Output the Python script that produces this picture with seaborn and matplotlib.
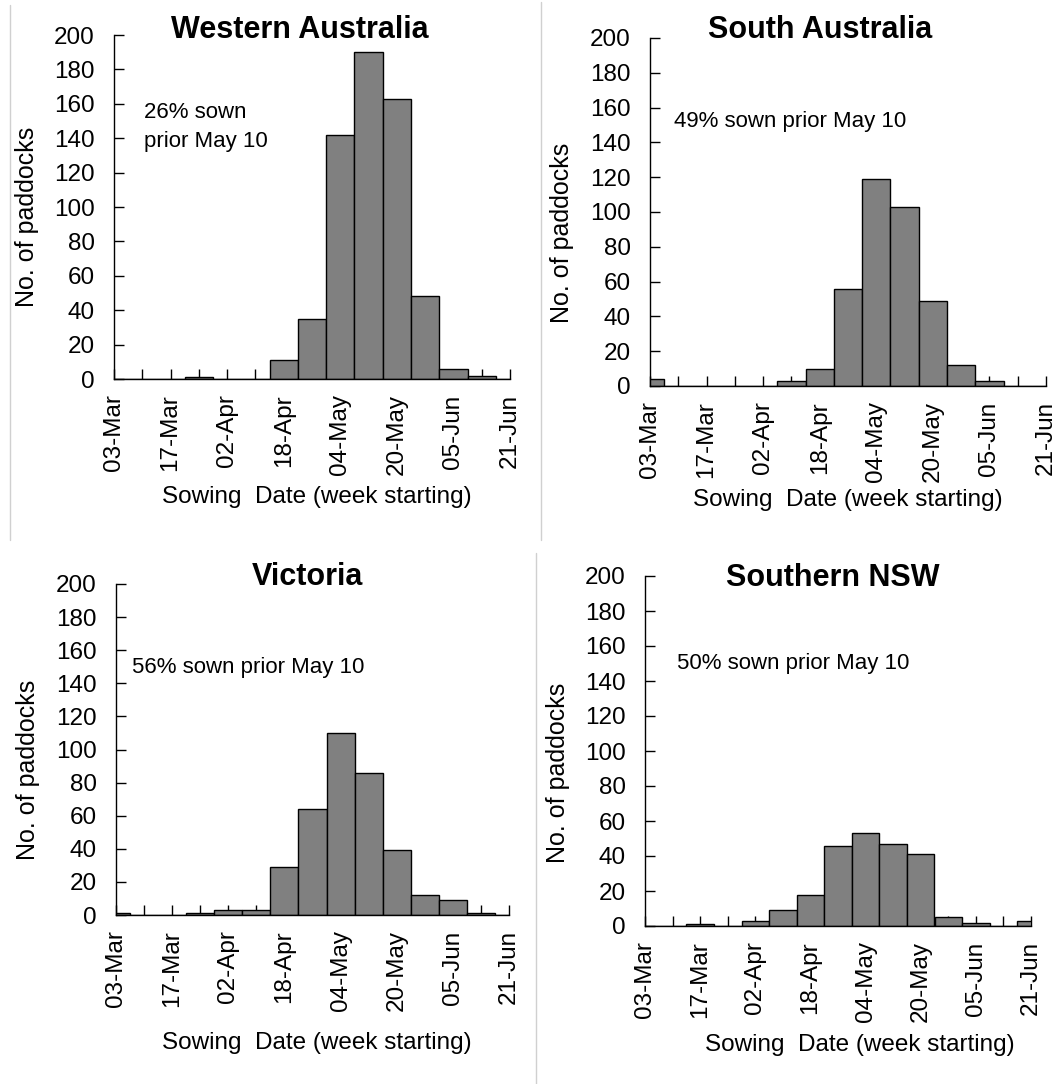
import numpy as np
import pandas as pd
import matplotlib
matplotlib.use("Agg")
import matplotlib.pyplot as plt
from matplotlib.lines import Line2D
import seaborn as sns

sns.set_style("white")
plt.rcParams['font.family'] = ['Liberation Sans', 'DejaVu Sans']
plt.rcParams['text.color'] = 'black'
plt.rcParams['xtick.color'] = 'black'
plt.rcParams['ytick.color'] = 'black'

# ------------------------------
# data: weekly counts of paddocks, one value per week slot (0..14)
# ------------------------------
week_pos = list(range(15))
tick_labels = ["03-Mar", "17-Mar", "02-Apr", "18-Apr", "04-May", "20-May", "05-Jun", "21-Jun"]

wa_counts = [0, 0, 0, 1, 0, 0, 11, 35, 142, 190, 163, 48, 6, 2, 0]
sa_counts = [4, 0, 0, 0, 0, 3, 10, 56, 119, 103, 49, 12, 3, 0, 0]
vic_counts = [1, 0, 0, 1, 3, 3, 29, 64, 110, 86, 39, 12, 9, 1, 0]
nsw_counts = [0, 0, 1, 0, 3, 9, 18, 46, 53, 47, 41, 5, 2, 0, 3]

regions = ["Western Australia", "South Australia", "Victoria", "Southern NSW"]
notes = ["26% sown\nprior May 10", "49% sown prior May 10",
         "56% sown prior May 10", "50% sown prior May 10"]
counts = [wa_counts, sa_counts, vic_counts, nsw_counts]

W, H = 1064, 1084
fig = plt.figure(figsize=(W / 100, H / 100), dpi=100)

# panel boxes in pixels: left, top, right, bottom
boxes = [(114, 35, 510, 379), (650, 38, 1046, 386),
         (116, 584, 509, 915), (645, 576, 1031, 926)]
title_pos = [(300, 30), (820, 30), (307, 577), (833, 578)]
note_pos = [(144, 127), (674, 122), (132, 668), (677, 663)]
ylab_pos = [(27, 217), (562, 233), (28, 770), (558, 773)]
xlab_pos = [(317, 497), (848, 500), (317, 1043), (860, 1045)]


def fx(px):
    return px / W


def fy(py):
    return 1 - py / H


for i in range(4):
    l, t, r, b = boxes[i]
    ax = fig.add_axes([fx(l), fy(b), fx(r) - fx(l), (b - t) / H])
    df = pd.DataFrame({"week": week_pos, "n": counts[i]})
    sns.histplot(data=df, x="week", weights="n", discrete=True, ax=ax,
                 color="#808080", edgecolor="black", linewidth=1, alpha=1)
    ax.set_xlim(0, 14)
    ax.set_ylim(0, 200)
    ax.set_yticks(range(0, 201, 20))
    ax.set_xticks(range(0, 15, 2))
    ax.set_xticklabels(tick_labels, rotation=90)
    ax.set_xticks(range(1, 15, 2), minor=True)
    ax.tick_params(axis="both", which="both", direction="in", length=7,
                   width=1, color="black", bottom=True, left=True)
    ax.tick_params(axis="x", which="major", labelsize=17.5, pad=11)
    ax.tick_params(axis="y", labelsize=17.5, pad=14)
    ax.set_xlabel("")
    ax.set_ylabel("")
    for s in ["top", "right"]:
        ax.spines[s].set_visible(False)
    for s in ["left", "bottom"]:
        ax.spines[s].set_color("black")
        ax.spines[s].set_linewidth(1)
    ax.patch.set_alpha(0)

    fig.text(fx(title_pos[i][0]), fy(title_pos[i][1]), regions[i],
             fontsize=22, fontweight="bold", ha="center", va="center")
    fig.text(fx(note_pos[i][0]), fy(note_pos[i][1]), notes[i],
             fontsize=16, ha="left", va="center", linespacing=1.45)
    fig.text(fx(ylab_pos[i][0]), fy(ylab_pos[i][1]), "No. of paddocks",
             fontsize=18, rotation=90, ha="center", va="center")
    fig.text(fx(xlab_pos[i][0]), fy(xlab_pos[i][1]), "Sowing  Date (week starting)",
             fontsize=17.5, ha="center", va="center")

# thin grey panel borders from the pasted figure
for x0, y0, y1 in [(10, 5, 540), (541, 2, 540), (536, 553, 1084)]:
    fig.add_artist(Line2D([fx(x0), fx(x0)], [fy(y0), fy(y1)],
                          color="#d0d0d0", linewidth=1))

fig.savefig("out.png", dpi=100)
